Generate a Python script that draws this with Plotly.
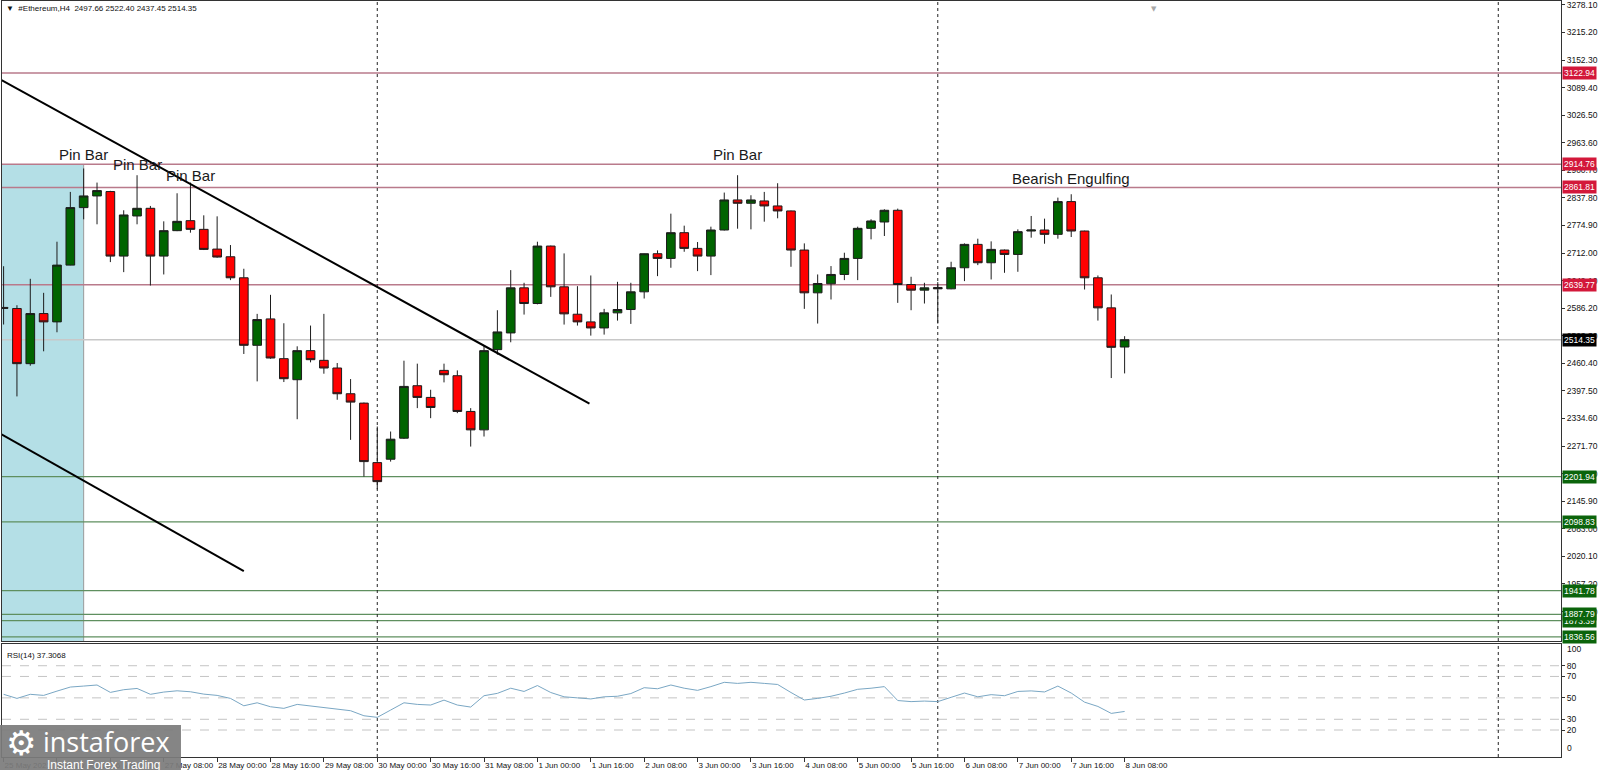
import plotly.graph_objects as go
import pandas as pd

# ---------------- data ----------------
times = list(pd.date_range("2021-05-25 08:00", periods=85, freq="4h").strftime("%Y-%m-%d %H:%M"))

opens = [2588, 2585.5, 2459.7, 2574, 2555, 2684.5, 2815.7, 2842.3, 2852.3, 2705.1,
         2796.6, 2814.1, 2705.1, 2763.1, 2785.9, 2766.1, 2721.1, 2703.6, 2655.6, 2501.6,
         2561.8, 2471.1, 2423.1, 2489.4, 2467.3, 2449.8, 2391.1, 2369.7, 2234.0, 2241.7,
         2289.7, 2409.4, 2382.7, 2444.4, 2432.2, 2350.7, 2308.7, 2491.7, 2529.8, 2632.7,
         2596.9, 2728.0, 2635.0, 2572.5, 2555.0, 2541.2, 2575.6, 2583.2, 2623.6, 2710.5,
         2699.8, 2758.5, 2722.7, 2705.1, 2764.6, 2833.2, 2825.6, 2830.9, 2819.5, 2808.1,
         2718.9, 2621.3, 2641.9, 2663.2, 2699.8, 2768.4, 2782.9, 2809.6, 2640.3, 2627.4,
         2633.5, 2630.4, 2678.5, 2731.8, 2689.9, 2718.9, 2708.9, 2762.3, 2764.6, 2754.7,
         2829.4, 2762.3, 2655.6, 2587.0, 2497.66]
highs = [2682, 2593, 2653.3, 2621.3, 2737.9, 2851.5, 2905, 2872.8, 2854, 2809.6,
         2889.6, 2819.5, 2784.4, 2848.4, 2872.8, 2798.1, 2795.8, 2730.3, 2676.2, 2573.3,
         2616.7, 2551.9, 2499.3, 2546.6, 2573.3, 2461.2, 2424.6, 2371, 2316.4, 2304.9,
         2466.5, 2459.7, 2400.2, 2459.7, 2444.4, 2358.3, 2500.8, 2581.6, 2673.1, 2644.2,
         2737.9, 2729, 2711.2, 2636.5, 2660.9, 2584.7, 2646.4, 2644.2, 2711, 2718.1,
         2801.9, 2774.5, 2737.2, 2772.2, 2850, 2889.6, 2843.9, 2851.5, 2871.3, 2809,
         2734.1, 2663.2, 2682.3, 2712.8, 2772.2, 2789, 2811.9, 2813.4, 2657.9, 2644.2,
         2645.7, 2692.2, 2734.1, 2744.8, 2738.7, 2720, 2766.1, 2796.6, 2790.5, 2838.5,
         2846.2, 2763, 2660.9, 2617.5, 2522.40]
lows = [2549, 2385, 2455, 2487.9, 2531.3, 2684, 2789, 2777.6, 2691.4, 2668.5,
        2777.6, 2638, 2663.2, 2762, 2758.5, 2718.9, 2701.3, 2650.3, 2481.8, 2419.3,
        2471, 2417.8, 2333, 2462.7, 2436.8, 2377.4, 2285.9, 2202, 2173, 2236.3,
        2288, 2358.3, 2335.4, 2417, 2346.8, 2270.6, 2293.5, 2480.3, 2508.5, 2571.7,
        2595, 2612.1, 2548.9, 2546.6, 2523.7, 2526, 2558, 2550.4, 2608.3, 2659.4,
        2678.5, 2715, 2670.8, 2661.7, 2763.5, 2767.6, 2766.1, 2783.6, 2791.3, 2680.7,
        2584.7, 2551.2, 2606.1, 2650.3, 2650.3, 2743.3, 2750.9, 2598.4, 2581.6, 2596.9,
        2551.2, 2629.5, 2648, 2684.5, 2651.8, 2667, 2669.3, 2747.1, 2733.3, 2744.8,
        2748.6, 2628.9, 2558, 2426.9, 2437.45]
closes = [2586, 2459.7, 2574, 2555, 2684.5, 2815.7, 2842.3, 2854.5, 2705.1, 2798.9,
          2814.1, 2705.1, 2763.1, 2784.4, 2766.1, 2720.4, 2702.9, 2655.6, 2501.6, 2560.3,
          2472.6, 2425.4, 2489.4, 2468.8, 2449.8, 2391.1, 2372.0, 2236.3, 2190.6, 2287.4,
          2407.8, 2382.7, 2359.8, 2434.5, 2350.7, 2308.7, 2489.4, 2532.1, 2632.7, 2596.9,
          2728.0, 2635.0, 2573.3, 2555.0, 2541.2, 2575.6, 2583.2, 2623.6, 2710.5, 2699.8,
          2758.5, 2722.7, 2705.1, 2764.6, 2833.2, 2825.6, 2833.2, 2819.5, 2808.1, 2718.9,
          2621.3, 2642.6, 2663.2, 2699.8, 2768.4, 2785.2, 2809.6, 2640.3, 2627.4, 2632.7,
          2630.4, 2678.5, 2731.8, 2689.9, 2720.4, 2708.9, 2760.8, 2764.6, 2754.7, 2829.4,
          2762.3, 2655.6, 2587.0, 2497.0, 2514.35]

rsi = [53.3, 49.5, 53.3, 52.3, 56.3, 60.1, 61.0, 62.0, 55.1, 57.6,
       58.8, 53.3, 55.4, 56.6, 55.7, 53.5, 52.3, 49.5, 42.6, 45.4,
       41.7, 40.2, 43.9, 42.4, 41.4, 39.3, 38.0, 33.3, 31.8, 38.6,
       45.4, 43.9, 43.3, 47.9, 43.3, 41.4, 52.0, 54.2, 59.0, 56.0,
       61.5, 55.0, 51.0, 50.0, 49.0, 51.0, 51.5, 54.0, 59.5, 58.5,
       62.0, 59.0, 57.0, 60.5, 64.5, 63.5, 64.5, 63.5, 62.5, 55.0,
       48.0, 49.5, 51.5, 54.5, 58.0, 59.0, 60.5, 47.5, 46.5, 47.0,
       46.5, 50.5, 54.5, 51.0, 53.0, 52.0, 56.0, 56.5, 55.5, 61.0,
       54.5, 46.0, 42.0, 35.5, 37.3068]

resistance_levels = [3122.94, 2914.76, 2861.81, 2639.77]
support_levels = [2201.94, 2098.83, 1941.78, 1887.79, 1873.39, 1836.56]
current_price = 2514.35

price_ticks = [3278.10, 3215.20, 3152.30, 3089.40, 3026.50, 2963.60, 2900.70, 2837.80,
               2774.90, 2712.00, 2649.10, 2586.20, 2523.30, 2460.40, 2397.50, 2334.60,
               2271.70, 2208.80, 2145.90, 2083.00, 2020.10, 1957.20, 1894.30]
rsi_levels = [80, 70, 50, 30, 20]

tick_times = ["2021-05-25 08:00", "2021-05-26 00:00", "2021-05-26 16:00", "2021-05-27 08:00",
              "2021-05-28 00:00", "2021-05-28 16:00", "2021-05-29 08:00", "2021-05-30 00:00",
              "2021-05-30 16:00", "2021-05-31 08:00", "2021-06-01 00:00", "2021-06-01 16:00",
              "2021-06-02 08:00", "2021-06-03 00:00", "2021-06-03 16:00", "2021-06-04 08:00",
              "2021-06-05 00:00", "2021-06-05 16:00", "2021-06-06 08:00", "2021-06-07 00:00",
              "2021-06-07 16:00", "2021-06-08 08:00"]
tick_labels = ["25 May 2021", "26 May 00:00", "26 May 16:00", "27 May 08:00",
               "28 May 00:00", "28 May 16:00", "29 May 08:00", "30 May 00:00",
               "30 May 16:00", "31 May 08:00", "1 Jun 00:00", "1 Jun 16:00",
               "2 Jun 08:00", "3 Jun 00:00", "3 Jun 16:00", "4 Jun 08:00",
               "5 Jun 00:00", "5 Jun 16:00", "6 Jun 08:00", "7 Jun 00:00",
               "7 Jun 16:00", "8 Jun 08:00"]

week_separators = ["2021-05-30 00:00", "2021-06-06 00:00", "2021-06-13 00:00"]

upper_trend_time = ["2021-05-25 06:55", "2021-06-01 15:36"]
upper_trend_price = [3108.3, 2368.3]
lower_trend_time = ["2021-05-25 06:55", "2021-05-28 08:00"]
lower_trend_price = [2300.5, 1986.6]

pattern_labels = ["Pin Bar", "Pin Bar", "Pin Bar", "Pin Bar", "Bearish Engulfing"]
pattern_times = ["2021-05-26 08:00", "2021-05-27 00:00", "2021-05-27 16:00",
                 "2021-06-03 12:00", "2021-06-07 16:00"]
pattern_prices = [2935.9, 2914.9, 2887.9, 2935.9, 2881.1]

zone_end_time = "2021-05-26 08:00"
zone_top = 2914.76

x_range = ["2021-05-25 07:31:12", "2021-06-13 18:48"]
y_range = [1827, 3287]
rsi_range = [-5.2, 100.3]

# ---------------- style ----------------
RED_LINE = "#b97a8b"
RED_LABEL = "#d3183a"
GREEN_LINE = "#5f8f5f"
GREEN_LABEL = "#0b640b"
GREY_LINE = "#c8c8c8"
FONT = "Liberation Sans"

fig = go.Figure()

fig.add_trace(go.Candlestick(
    x=times, open=opens, high=highs, low=lows, close=closes,
    xaxis="x", yaxis="y",
    increasing=dict(fillcolor="#006400", line=dict(color="#1c1c1c", width=1)),
    decreasing=dict(fillcolor="#ff0000", line=dict(color="#1c1c1c", width=1)),
    whiskerwidth=0, hoverinfo="skip", showlegend=False,
))

fig.add_trace(go.Scatter(x=upper_trend_time, y=upper_trend_price, mode="lines",
                         line=dict(color="#000000", width=2), xaxis="x", yaxis="y",
                         hoverinfo="skip", showlegend=False))
fig.add_trace(go.Scatter(x=lower_trend_time, y=lower_trend_price, mode="lines",
                         line=dict(color="#000000", width=2), xaxis="x", yaxis="y",
                         hoverinfo="skip", showlegend=False))

fig.add_trace(go.Scatter(x=times, y=rsi, mode="lines",
                         line=dict(color="#7aa7c4", width=1), xaxis="x2", yaxis="y2",
                         hoverinfo="skip", showlegend=False))

shapes = []
# shaded zone
shapes.append(dict(type="rect", xref="x", yref="y", x0=x_range[0], x1=zone_end_time,
                   y0=y_range[0], y1=zone_top, fillcolor="#b4dfe6", line=dict(width=0),
                   layer="below"))
shapes.append(dict(type="line", xref="x", yref="y", x0=zone_end_time, x1=zone_end_time,
                   y0=y_range[0], y1=zone_top, line=dict(color="#9a9a9a", width=1),
                   layer="below"))
for lv in resistance_levels:
    shapes.append(dict(type="line", xref="x", yref="y", x0=x_range[0], x1=x_range[1],
                       y0=lv, y1=lv, line=dict(color=RED_LINE, width=1.5), layer="below"))
for lv in support_levels:
    shapes.append(dict(type="line", xref="x", yref="y", x0=x_range[0], x1=x_range[1],
                       y0=lv, y1=lv, line=dict(color=GREEN_LINE, width=1.2), layer="below"))
shapes.append(dict(type="line", xref="x", yref="y", x0=x_range[0], x1=x_range[1],
                   y0=current_price, y1=current_price,
                   line=dict(color=GREY_LINE, width=1.5), layer="below"))
for lv in rsi_levels:
    shapes.append(dict(type="line", xref="x2", yref="y2", x0=x_range[0], x1=x_range[1],
                       y0=lv, y1=lv, line=dict(color="#c4c4c4", width=1, dash="dash"),
                       layer="below"))
for t in week_separators:
    shapes.append(dict(type="line", xref="x", yref="y", x0=t, x1=t, y0=y_range[0],
                       y1=y_range[1], line=dict(color="#222222", width=1, dash="dot"),
                       layer="below"))
    shapes.append(dict(type="line", xref="x2", yref="y2", x0=t, x1=t, y0=rsi_range[0],
                       y1=rsi_range[1], line=dict(color="#222222", width=1, dash="dot"),
                       layer="below"))
# logo box
shapes.append(dict(type="rect", xref="paper", yref="paper", x0=-0.0013, x1=0.1148,
                   y0=-0.0175, y1=0.0423, fillcolor="#7c7c7c", opacity=0.93,
                   line=dict(width=0), layer="above"))

annotations = []
for txt, t, p in zip(pattern_labels, pattern_times, pattern_prices):
    annotations.append(dict(x=t, y=p, xref="x", yref="y", text=txt, showarrow=False,
                            font=dict(family=FONT, size=15, color="#1a1a1a"),
                            xanchor="center", yanchor="middle"))


def price_label(val, bg, ref="y"):
    return dict(x=1, y=val, xref="paper", yref=ref, text=f"{val:.2f}", showarrow=False,
                xanchor="left", yanchor="middle", xshift=1, bgcolor=bg, borderpad=1,
                font=dict(family=FONT, size=8.5, color="#ffffff"))


for lv in resistance_levels:
    annotations.append(price_label(lv, RED_LABEL))
for lv in reversed(support_levels):
    annotations.append(price_label(lv, GREEN_LABEL))
annotations.append(price_label(current_price, "#000000"))

# RSI top / bottom scale labels
annotations.append(dict(x=1, y=95.3, xref="paper", yref="y2", text="100", showarrow=False,
                        xanchor="left", yanchor="middle", xshift=4,
                        font=dict(family=FONT, size=8.5, color="#111")))
annotations.append(dict(x=1, y=3.2, xref="paper", yref="y2", text="0", showarrow=False,
                        xanchor="left", yanchor="middle", xshift=4,
                        font=dict(family=FONT, size=8.5, color="#111")))

# headers
annotations.append(dict(x=0.0013, y=0.9907, xref="paper", yref="paper",
                        text="\u25bc  #Ethereum,H4  2497.66 2522.40 2437.45 2514.35",
                        showarrow=False, xanchor="left", yanchor="middle",
                        font=dict(family=FONT, size=8, color="#111")))
annotations.append(dict(x=0.002, y=0.90, xref="paper", yref="y2 domain",
                        text="RSI(14) 37.3068", showarrow=False, xanchor="left",
                        yanchor="middle", font=dict(family=FONT, size=8, color="#111")))
annotations.append(dict(x=0.739, y=0.998, xref="paper", yref="paper", text="\u25bc",
                        showarrow=False, xanchor="center", yanchor="top",
                        font=dict(family="DejaVu Sans", size=7, color="#a8a8a8")))

# logo texts
annotations.append(dict(x=0.0125, y=0.019, xref="paper", yref="paper", text="\u2699",
                        showarrow=False, xanchor="center", yanchor="middle",
                        font=dict(family="DejaVu Sans", size=34, color="#ffffff")))
annotations.append(dict(x=0.025, y=0.021, xref="paper", yref="paper", text="instaforex",
                        showarrow=False, xanchor="left", yanchor="middle",
                        font=dict(family="Open Sans", size=27, color="#ffffff")))
annotations.append(dict(x=0.0275, y=-0.0105, xref="paper", yref="paper",
                        text="Instant Forex Trading", showarrow=False, xanchor="left",
                        yanchor="middle", font=dict(family=FONT, size=12, color="#ffffff")))

fig.update_layout(
    width=1599, height=770,
    margin=dict(l=2, r=38, t=1, b=13, autoexpand=False),
    paper_bgcolor="white", plot_bgcolor="white",
    showlegend=False, hovermode=False,
    boxgap=0.35, boxgroupgap=0,
    font=dict(family=FONT, size=8.5, color="#111"),
    shapes=shapes, annotations=annotations,
    xaxis=dict(domain=[0, 1], anchor="y", type="date", range=x_range,
               showticklabels=False, ticks="", showgrid=False, zeroline=False,
               showline=True, mirror=True, linecolor="#333", linewidth=1,
               rangeslider=dict(visible=False)),
    yaxis=dict(domain=[0.1534, 1], anchor="x", range=y_range, side="right",
               tickvals=price_ticks, ticktext=[f"{v:.2f}" for v in price_ticks],
               ticks="outside", ticklen=3, tickcolor="#333", showgrid=False,
               ticklabeloverflow="allow",
               zeroline=False, showline=True, mirror=True, linecolor="#333",
               tickfont=dict(family=FONT, size=8.5, color="#111")),
    xaxis2=dict(domain=[0, 1], anchor="y2", type="date", matches="x", range=x_range,
                tickvals=tick_times, ticktext=tick_labels, ticks="outside", ticklen=4,
                tickangle=0, tickcolor="#333", ticklabelposition="outside right",
                ticklabeloverflow="allow",
                showgrid=False, zeroline=False, showline=True, mirror=True,
                linecolor="#333", tickfont=dict(family=FONT, size=8, color="#111")),
    yaxis2=dict(domain=[0, 0.1495], anchor="x2", range=rsi_range, side="right",
                tickvals=rsi_levels, ticktext=[str(v) for v in rsi_levels],
                ticks="outside", ticklen=3, tickcolor="#333", showgrid=False,
                zeroline=False, showline=True, mirror=True, linecolor="#333",
                tickfont=dict(family=FONT, size=8.5, color="#111")),
)

fig.write_html("out.html", config={"displayModeBar": False},
               post_script="document.body.style.margin='0';")
